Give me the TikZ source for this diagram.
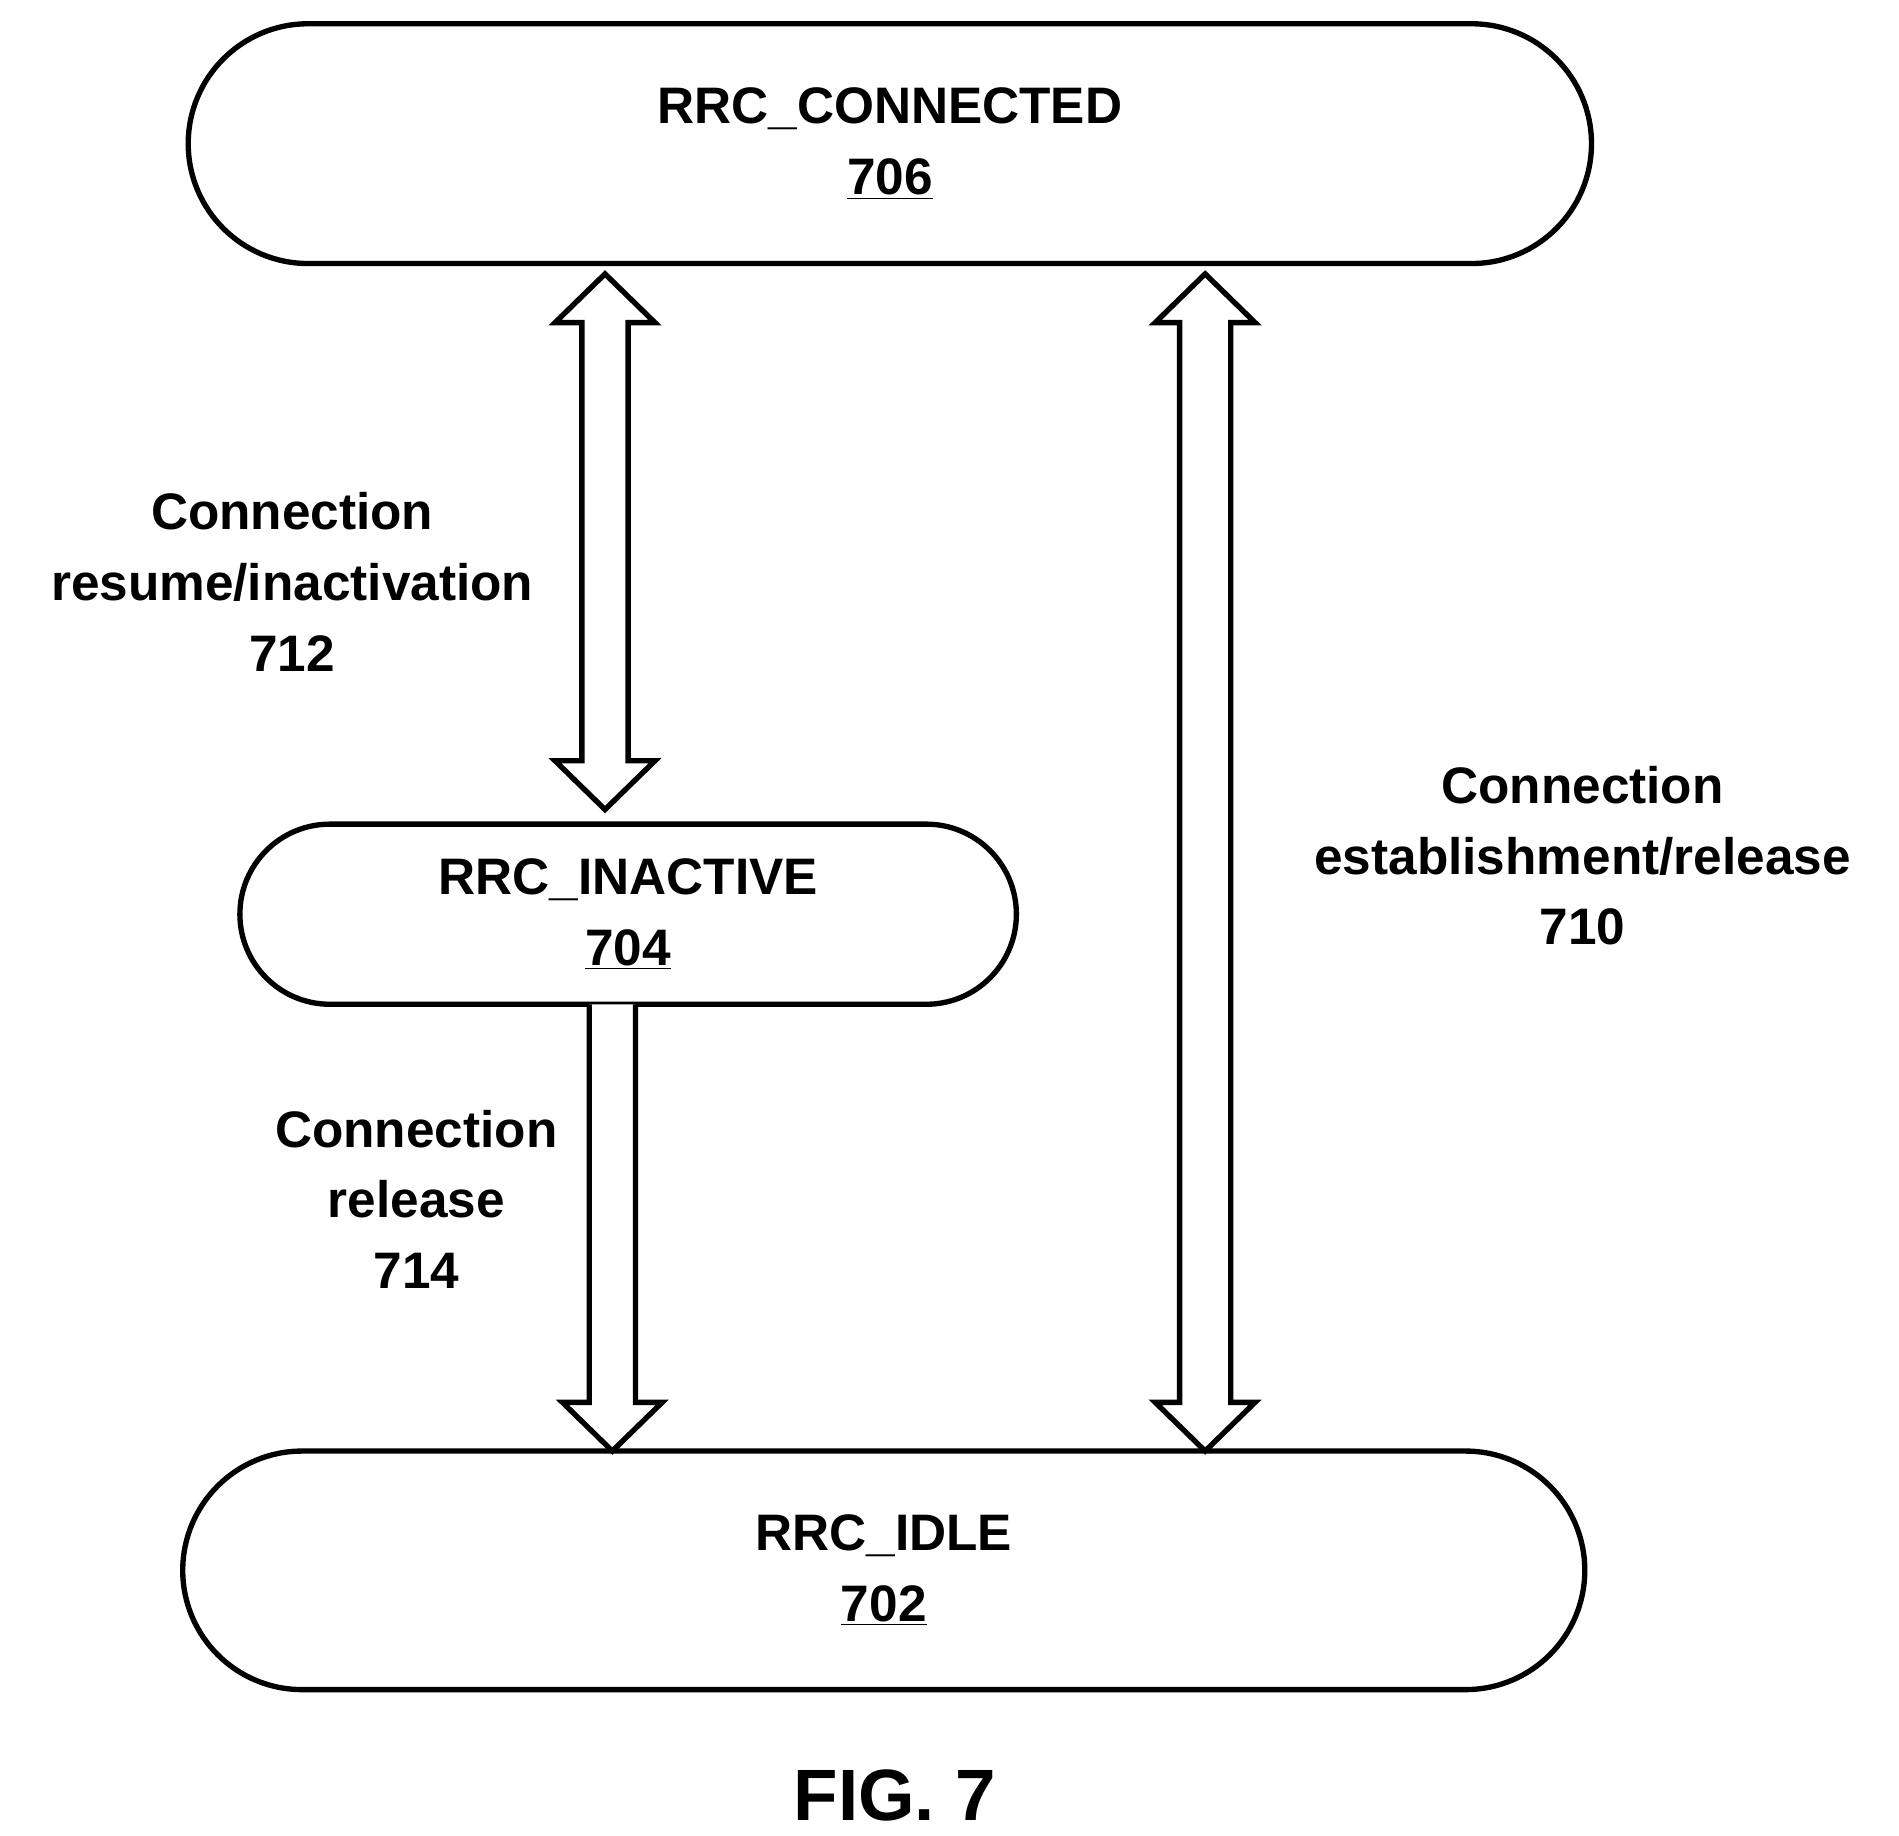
\documentclass[tikz,border=0pt]{standalone}
\usepackage{fontspec}
\setmainfont{Liberation Sans}
\usetikzlibrary{calc}

\tikzset{
  state/.style  = {draw, line width=2.5pt, rectangle, align=center,
                   font=\fontsize{24}{33}\selectfont\bfseries},
  lbl/.style    = {align=center, font=\fontsize{24}{33}\selectfont\bfseries},
  fatarrow/.style = {draw, line width=2.5pt, fill=white, line join=miter}
}

\begin{document}
\begin{tikzpicture}[x=0.02cm, y=-0.02cm]
  \useasboundingbox (0,0) rectangle (1560,1508);

% states
\node[state, minimum width=23.06cm, minimum height=3.94cm, rounded corners=1.97cm]
  (connected) at (731,118) {RRC\_CONNECTED\\\underline{706}};
\node[state, minimum width=12.76cm, minimum height=2.96cm, rounded corners=1.48cm]
  (inactive) at (516,751) {RRC\_INACTIVE\\\underline{704}};
\node[state, minimum width=23.04cm, minimum height=3.92cm, rounded corners=1.96cm]
  (idle) at (726,1290) {RRC\_IDLE\\\underline{702}};

% transition 712 (double)
\coordinate (t712) at (497,225);
\coordinate (b712) at (497,665);
\draw[fatarrow] (t712) -- ++(41,40) -- ++(-22,0) -- ($(b712)+(19,-40)$) -- ++(22,0)
  -- (b712) -- ++(-41,-40) -- ++(22,0) -- ($(t712)+(-19,40)$) -- ++(-22,0) -- cycle;

% transition 714 (single)
\coordinate (t714) at (503,825);
\coordinate (b714) at (503,1192);
\draw[fatarrow] ($(t714)+(-19,0)$) -- ($(b714)+(-19,-40)$) -- ++(-22,0) -- (b714)
  -- ++(41,-40) -- ++(-22,0) -- ($(t714)+(19,0)$);

% transition 710 (double)
\coordinate (t710) at (990,225);
\coordinate (b710) at (990,1192);
\draw[fatarrow] (t710) -- ++(41,40) -- ++(-20,0) -- ($(b710)+(21,-40)$) -- ++(20,0)
  -- (b710) -- ++(-41,-40) -- ++(20,0) -- ($(t710)+(-21,40)$) -- ++(-20,0) -- cycle;

% labels
\node[lbl] (l712) at (240,478) {Connection\\resume/inactivation\\712};
\node[lbl] (l714) at (342,985) {Connection\\release\\714};
\node[lbl] (l710) at (1300,703) {Connection\\establishment/release\\710};
\node[font=\fontsize{34}{40}\selectfont\bfseries] (fig) at (735,1475) {FIG. 7};

\end{tikzpicture}
\end{document}
